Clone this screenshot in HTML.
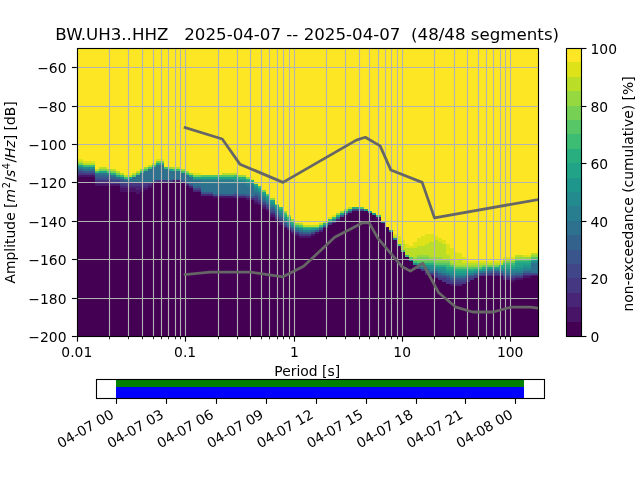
<!DOCTYPE html>
<html><head><meta charset="utf-8"><title>PPSD BW.UH3..HHZ</title>
<style>html,body{margin:0;padding:0;background:#fff}body{width:640px;height:480px;overflow:hidden}</style></head>
<body>
<svg width="640" height="480" viewBox="0 0 640 480" style="display:block">
<defs><clipPath id="axc"><rect x="77" y="48" width="461" height="288"/></clipPath></defs>
<rect width="640" height="480" fill="#fff"/>
<g clip-path="url(#axc)" shape-rendering="crispEdges">
<rect x="76.80" y="48.00" width="460.80" height="288.00" fill="#fde725"/>
<rect x="75" y="177" width="4" height="159" fill="#440154"/>
<rect x="75" y="175" width="4" height="2" fill="#481467"/>
<rect x="75" y="173" width="4" height="2" fill="#453781"/>
<rect x="75" y="171" width="4" height="2" fill="#404688"/>
<rect x="75" y="169" width="4" height="2" fill="#33638d"/>
<rect x="75" y="167" width="4" height="2" fill="#287d8e"/>
<rect x="75" y="165" width="4" height="2" fill="#20a386"/>
<rect x="75" y="163" width="4" height="2" fill="#75d054"/>
<rect x="75" y="161" width="4" height="2" fill="#bade28"/>
<rect x="75" y="159" width="4" height="2" fill="#dde318"/>
<rect x="79" y="177" width="4" height="159" fill="#440154"/>
<rect x="79" y="175" width="4" height="2" fill="#481467"/>
<rect x="79" y="173" width="4" height="2" fill="#453781"/>
<rect x="79" y="171" width="4" height="2" fill="#404688"/>
<rect x="79" y="169" width="4" height="2" fill="#33638d"/>
<rect x="79" y="167" width="4" height="2" fill="#287d8e"/>
<rect x="79" y="165" width="4" height="2" fill="#20a386"/>
<rect x="79" y="163" width="4" height="2" fill="#75d054"/>
<rect x="79" y="161" width="4" height="2" fill="#bade28"/>
<rect x="79" y="159" width="4" height="2" fill="#dde318"/>
<rect x="83" y="177" width="4" height="159" fill="#440154"/>
<rect x="83" y="175" width="4" height="2" fill="#481467"/>
<rect x="83" y="173" width="4" height="2" fill="#453781"/>
<rect x="83" y="171" width="4" height="2" fill="#39558c"/>
<rect x="83" y="169" width="4" height="2" fill="#2d718e"/>
<rect x="83" y="167" width="4" height="2" fill="#238a8d"/>
<rect x="83" y="165" width="4" height="2" fill="#3dbc74"/>
<rect x="83" y="163" width="4" height="2" fill="#bade28"/>
<rect x="83" y="161" width="4" height="2" fill="#dde318"/>
<rect x="87" y="177" width="4" height="159" fill="#440154"/>
<rect x="87" y="175" width="4" height="2" fill="#481467"/>
<rect x="87" y="173" width="4" height="2" fill="#453781"/>
<rect x="87" y="171" width="4" height="2" fill="#39558c"/>
<rect x="87" y="169" width="4" height="2" fill="#2d718e"/>
<rect x="87" y="167" width="4" height="2" fill="#238a8d"/>
<rect x="87" y="165" width="4" height="2" fill="#3dbc74"/>
<rect x="87" y="163" width="4" height="2" fill="#bade28"/>
<rect x="87" y="161" width="4" height="2" fill="#dde318"/>
<rect x="91" y="177" width="4" height="159" fill="#440154"/>
<rect x="91" y="175" width="4" height="2" fill="#481467"/>
<rect x="91" y="173" width="4" height="2" fill="#453781"/>
<rect x="91" y="171" width="4" height="2" fill="#39558c"/>
<rect x="91" y="169" width="4" height="2" fill="#2d718e"/>
<rect x="91" y="167" width="4" height="2" fill="#238a8d"/>
<rect x="91" y="165" width="4" height="2" fill="#3dbc74"/>
<rect x="91" y="163" width="4" height="2" fill="#bade28"/>
<rect x="91" y="161" width="4" height="2" fill="#dde318"/>
<rect x="95" y="186" width="4" height="150" fill="#440154"/>
<rect x="95" y="184" width="4" height="2" fill="#481467"/>
<rect x="95" y="182" width="4" height="2" fill="#482576"/>
<rect x="95" y="180" width="4" height="2" fill="#453781"/>
<rect x="95" y="179" width="4" height="1" fill="#404688"/>
<rect x="95" y="177" width="4" height="2" fill="#39558c"/>
<rect x="95" y="175" width="4" height="2" fill="#33638d"/>
<rect x="95" y="173" width="4" height="2" fill="#2d718e"/>
<rect x="95" y="171" width="4" height="2" fill="#3dbc74"/>
<rect x="95" y="169" width="4" height="2" fill="#bade28"/>
<rect x="99" y="186" width="4" height="150" fill="#440154"/>
<rect x="99" y="184" width="4" height="2" fill="#481467"/>
<rect x="99" y="182" width="4" height="2" fill="#482576"/>
<rect x="99" y="180" width="4" height="2" fill="#453781"/>
<rect x="99" y="179" width="4" height="1" fill="#404688"/>
<rect x="99" y="177" width="4" height="2" fill="#39558c"/>
<rect x="99" y="175" width="4" height="2" fill="#33638d"/>
<rect x="99" y="173" width="4" height="2" fill="#2d718e"/>
<rect x="99" y="171" width="4" height="2" fill="#20a386"/>
<rect x="99" y="169" width="4" height="2" fill="#75d054"/>
<rect x="99" y="167" width="4" height="2" fill="#bade28"/>
<rect x="103" y="186" width="4" height="150" fill="#440154"/>
<rect x="103" y="184" width="4" height="2" fill="#481467"/>
<rect x="103" y="182" width="4" height="2" fill="#482576"/>
<rect x="103" y="180" width="4" height="2" fill="#453781"/>
<rect x="103" y="179" width="4" height="1" fill="#404688"/>
<rect x="103" y="177" width="4" height="2" fill="#39558c"/>
<rect x="103" y="175" width="4" height="2" fill="#33638d"/>
<rect x="103" y="173" width="4" height="2" fill="#2d718e"/>
<rect x="103" y="171" width="4" height="2" fill="#20a386"/>
<rect x="103" y="169" width="4" height="2" fill="#75d054"/>
<rect x="103" y="167" width="4" height="2" fill="#bade28"/>
<rect x="107" y="186" width="4" height="150" fill="#440154"/>
<rect x="107" y="184" width="4" height="2" fill="#481467"/>
<rect x="107" y="182" width="4" height="2" fill="#482576"/>
<rect x="107" y="180" width="4" height="2" fill="#453781"/>
<rect x="107" y="179" width="4" height="1" fill="#404688"/>
<rect x="107" y="177" width="4" height="2" fill="#39558c"/>
<rect x="107" y="175" width="4" height="2" fill="#33638d"/>
<rect x="107" y="173" width="4" height="2" fill="#238a8d"/>
<rect x="107" y="171" width="4" height="2" fill="#56c667"/>
<rect x="107" y="169" width="4" height="2" fill="#95d840"/>
<rect x="111" y="186" width="5" height="150" fill="#440154"/>
<rect x="111" y="184" width="5" height="2" fill="#481467"/>
<rect x="111" y="182" width="5" height="2" fill="#453781"/>
<rect x="111" y="180" width="5" height="2" fill="#404688"/>
<rect x="111" y="179" width="5" height="1" fill="#39558c"/>
<rect x="111" y="177" width="5" height="2" fill="#33638d"/>
<rect x="111" y="175" width="5" height="2" fill="#2d718e"/>
<rect x="111" y="173" width="5" height="2" fill="#29af7f"/>
<rect x="111" y="171" width="5" height="2" fill="#75d054"/>
<rect x="111" y="169" width="5" height="2" fill="#bade28"/>
<rect x="116" y="186" width="4" height="150" fill="#440154"/>
<rect x="116" y="184" width="4" height="2" fill="#481467"/>
<rect x="116" y="182" width="4" height="2" fill="#453781"/>
<rect x="116" y="180" width="4" height="2" fill="#404688"/>
<rect x="116" y="179" width="4" height="1" fill="#39558c"/>
<rect x="116" y="177" width="4" height="2" fill="#2d718e"/>
<rect x="116" y="175" width="4" height="2" fill="#29af7f"/>
<rect x="116" y="173" width="4" height="2" fill="#75d054"/>
<rect x="116" y="171" width="4" height="2" fill="#bade28"/>
<rect x="120" y="192" width="4" height="144" fill="#440154"/>
<rect x="120" y="188" width="4" height="4" fill="#481467"/>
<rect x="120" y="186" width="4" height="2" fill="#482576"/>
<rect x="120" y="184" width="4" height="2" fill="#453781"/>
<rect x="120" y="182" width="4" height="2" fill="#404688"/>
<rect x="120" y="180" width="4" height="2" fill="#39558c"/>
<rect x="120" y="179" width="4" height="1" fill="#33638d"/>
<rect x="120" y="177" width="4" height="2" fill="#287d8e"/>
<rect x="120" y="175" width="4" height="2" fill="#3dbc74"/>
<rect x="120" y="173" width="4" height="2" fill="#bade28"/>
<rect x="124" y="192" width="4" height="144" fill="#440154"/>
<rect x="124" y="188" width="4" height="4" fill="#481467"/>
<rect x="124" y="186" width="4" height="2" fill="#482576"/>
<rect x="124" y="184" width="4" height="2" fill="#453781"/>
<rect x="124" y="182" width="4" height="2" fill="#404688"/>
<rect x="124" y="180" width="4" height="2" fill="#33638d"/>
<rect x="124" y="179" width="4" height="1" fill="#287d8e"/>
<rect x="124" y="177" width="4" height="2" fill="#3dbc74"/>
<rect x="124" y="175" width="4" height="2" fill="#bade28"/>
<rect x="128" y="192" width="4" height="144" fill="#440154"/>
<rect x="128" y="188" width="4" height="4" fill="#481467"/>
<rect x="128" y="186" width="4" height="2" fill="#482576"/>
<rect x="128" y="182" width="4" height="4" fill="#453781"/>
<rect x="128" y="179" width="4" height="3" fill="#2d718e"/>
<rect x="128" y="177" width="4" height="2" fill="#20a386"/>
<rect x="128" y="175" width="4" height="2" fill="#bade28"/>
<rect x="132" y="192" width="4" height="144" fill="#440154"/>
<rect x="132" y="188" width="4" height="4" fill="#481467"/>
<rect x="132" y="186" width="4" height="2" fill="#482576"/>
<rect x="132" y="182" width="4" height="4" fill="#453781"/>
<rect x="132" y="177" width="4" height="5" fill="#2d718e"/>
<rect x="132" y="175" width="4" height="2" fill="#56c667"/>
<rect x="132" y="173" width="4" height="2" fill="#bade28"/>
<rect x="136" y="194" width="4" height="142" fill="#440154"/>
<rect x="136" y="190" width="4" height="4" fill="#481467"/>
<rect x="136" y="186" width="4" height="4" fill="#482576"/>
<rect x="136" y="182" width="4" height="4" fill="#453781"/>
<rect x="136" y="175" width="4" height="7" fill="#2d718e"/>
<rect x="136" y="173" width="4" height="2" fill="#56c667"/>
<rect x="136" y="171" width="4" height="2" fill="#bade28"/>
<rect x="140" y="192" width="4" height="144" fill="#440154"/>
<rect x="140" y="188" width="4" height="4" fill="#481467"/>
<rect x="140" y="186" width="4" height="2" fill="#482576"/>
<rect x="140" y="182" width="4" height="4" fill="#453781"/>
<rect x="140" y="173" width="4" height="9" fill="#2d718e"/>
<rect x="140" y="171" width="4" height="2" fill="#3dbc74"/>
<rect x="140" y="169" width="4" height="2" fill="#95d840"/>
<rect x="144" y="190" width="4" height="146" fill="#440154"/>
<rect x="144" y="188" width="4" height="2" fill="#481467"/>
<rect x="144" y="186" width="4" height="2" fill="#482576"/>
<rect x="144" y="182" width="4" height="4" fill="#453781"/>
<rect x="144" y="171" width="4" height="11" fill="#2d718e"/>
<rect x="144" y="169" width="4" height="2" fill="#3dbc74"/>
<rect x="144" y="167" width="4" height="2" fill="#95d840"/>
<rect x="148" y="188" width="4" height="148" fill="#440154"/>
<rect x="148" y="186" width="4" height="2" fill="#481467"/>
<rect x="148" y="184" width="4" height="2" fill="#482576"/>
<rect x="148" y="182" width="4" height="2" fill="#453781"/>
<rect x="148" y="169" width="4" height="13" fill="#2d718e"/>
<rect x="148" y="167" width="4" height="2" fill="#3dbc74"/>
<rect x="148" y="165" width="4" height="2" fill="#bade28"/>
<rect x="152" y="182" width="4" height="154" fill="#440154"/>
<rect x="152" y="180" width="4" height="2" fill="#39558c"/>
<rect x="152" y="167" width="4" height="13" fill="#2d718e"/>
<rect x="152" y="165" width="4" height="2" fill="#3dbc74"/>
<rect x="152" y="163" width="4" height="2" fill="#bade28"/>
<rect x="156" y="182" width="4" height="154" fill="#440154"/>
<rect x="156" y="180" width="4" height="2" fill="#453781"/>
<rect x="156" y="165" width="4" height="15" fill="#2d718e"/>
<rect x="156" y="163" width="4" height="2" fill="#20a386"/>
<rect x="156" y="161" width="4" height="2" fill="#75d054"/>
<rect x="156" y="159" width="4" height="2" fill="#dde318"/>
<rect x="160" y="182" width="4" height="154" fill="#440154"/>
<rect x="160" y="180" width="4" height="2" fill="#453781"/>
<rect x="160" y="165" width="4" height="15" fill="#2d718e"/>
<rect x="160" y="163" width="4" height="2" fill="#20a386"/>
<rect x="160" y="161" width="4" height="2" fill="#75d054"/>
<rect x="160" y="159" width="4" height="2" fill="#dde318"/>
<rect x="164" y="182" width="5" height="154" fill="#440154"/>
<rect x="164" y="180" width="5" height="2" fill="#453781"/>
<rect x="164" y="169" width="5" height="11" fill="#2d718e"/>
<rect x="164" y="167" width="5" height="2" fill="#3dbc74"/>
<rect x="169" y="182" width="4" height="154" fill="#440154"/>
<rect x="169" y="180" width="4" height="2" fill="#453781"/>
<rect x="169" y="171" width="4" height="9" fill="#2d718e"/>
<rect x="169" y="169" width="4" height="2" fill="#20a386"/>
<rect x="169" y="167" width="4" height="2" fill="#95d840"/>
<rect x="173" y="182" width="4" height="154" fill="#440154"/>
<rect x="173" y="180" width="4" height="2" fill="#481467"/>
<rect x="173" y="179" width="4" height="1" fill="#33638d"/>
<rect x="173" y="171" width="4" height="8" fill="#2d718e"/>
<rect x="173" y="169" width="4" height="2" fill="#3dbc74"/>
<rect x="173" y="167" width="4" height="2" fill="#bade28"/>
<rect x="177" y="182" width="4" height="154" fill="#440154"/>
<rect x="177" y="180" width="4" height="2" fill="#481467"/>
<rect x="177" y="179" width="4" height="1" fill="#33638d"/>
<rect x="177" y="171" width="4" height="8" fill="#2d718e"/>
<rect x="177" y="169" width="4" height="2" fill="#3dbc74"/>
<rect x="177" y="167" width="4" height="2" fill="#bade28"/>
<rect x="181" y="182" width="4" height="154" fill="#440154"/>
<rect x="181" y="180" width="4" height="2" fill="#39558c"/>
<rect x="181" y="173" width="4" height="7" fill="#2d718e"/>
<rect x="181" y="171" width="4" height="2" fill="#3dbc74"/>
<rect x="181" y="169" width="4" height="2" fill="#95d840"/>
<rect x="185" y="186" width="4" height="150" fill="#440154"/>
<rect x="185" y="184" width="4" height="2" fill="#482576"/>
<rect x="185" y="182" width="4" height="2" fill="#39558c"/>
<rect x="185" y="175" width="4" height="7" fill="#2d718e"/>
<rect x="185" y="173" width="4" height="2" fill="#3dbc74"/>
<rect x="185" y="171" width="4" height="2" fill="#95d840"/>
<rect x="189" y="188" width="4" height="148" fill="#440154"/>
<rect x="189" y="186" width="4" height="2" fill="#482576"/>
<rect x="189" y="184" width="4" height="2" fill="#39558c"/>
<rect x="189" y="177" width="4" height="7" fill="#2d718e"/>
<rect x="189" y="175" width="4" height="2" fill="#20a386"/>
<rect x="189" y="173" width="4" height="2" fill="#95d840"/>
<rect x="193" y="192" width="4" height="144" fill="#440154"/>
<rect x="193" y="190" width="4" height="2" fill="#482576"/>
<rect x="193" y="188" width="4" height="2" fill="#404688"/>
<rect x="193" y="186" width="4" height="2" fill="#33638d"/>
<rect x="193" y="180" width="4" height="6" fill="#2d718e"/>
<rect x="193" y="179" width="4" height="1" fill="#238a8d"/>
<rect x="193" y="177" width="4" height="2" fill="#20a386"/>
<rect x="193" y="175" width="4" height="2" fill="#75d054"/>
<rect x="193" y="173" width="4" height="2" fill="#dde318"/>
<rect x="197" y="192" width="4" height="144" fill="#440154"/>
<rect x="197" y="190" width="4" height="2" fill="#482576"/>
<rect x="197" y="188" width="4" height="2" fill="#404688"/>
<rect x="197" y="186" width="4" height="2" fill="#33638d"/>
<rect x="197" y="180" width="4" height="6" fill="#2d718e"/>
<rect x="197" y="179" width="4" height="1" fill="#238a8d"/>
<rect x="197" y="177" width="4" height="2" fill="#20a386"/>
<rect x="197" y="175" width="4" height="2" fill="#75d054"/>
<rect x="197" y="173" width="4" height="2" fill="#dde318"/>
<rect x="201" y="196" width="4" height="140" fill="#440154"/>
<rect x="201" y="194" width="4" height="2" fill="#482576"/>
<rect x="201" y="192" width="4" height="2" fill="#39558c"/>
<rect x="201" y="184" width="4" height="8" fill="#2d718e"/>
<rect x="201" y="180" width="4" height="4" fill="#287d8e"/>
<rect x="201" y="179" width="4" height="1" fill="#238a8d"/>
<rect x="201" y="177" width="4" height="2" fill="#20a386"/>
<rect x="201" y="175" width="4" height="2" fill="#56c667"/>
<rect x="205" y="196" width="4" height="140" fill="#440154"/>
<rect x="205" y="194" width="4" height="2" fill="#482576"/>
<rect x="205" y="192" width="4" height="2" fill="#39558c"/>
<rect x="205" y="184" width="4" height="8" fill="#2d718e"/>
<rect x="205" y="180" width="4" height="4" fill="#287d8e"/>
<rect x="205" y="179" width="4" height="1" fill="#238a8d"/>
<rect x="205" y="177" width="4" height="2" fill="#20a386"/>
<rect x="205" y="175" width="4" height="2" fill="#56c667"/>
<rect x="209" y="196" width="4" height="140" fill="#440154"/>
<rect x="209" y="194" width="4" height="2" fill="#482576"/>
<rect x="209" y="192" width="4" height="2" fill="#39558c"/>
<rect x="209" y="184" width="4" height="8" fill="#2d718e"/>
<rect x="209" y="180" width="4" height="4" fill="#287d8e"/>
<rect x="209" y="179" width="4" height="1" fill="#238a8d"/>
<rect x="209" y="177" width="4" height="2" fill="#20a386"/>
<rect x="209" y="175" width="4" height="2" fill="#56c667"/>
<rect x="213" y="198" width="4" height="138" fill="#440154"/>
<rect x="213" y="196" width="4" height="2" fill="#481467"/>
<rect x="213" y="194" width="4" height="2" fill="#39558c"/>
<rect x="213" y="184" width="4" height="10" fill="#2d718e"/>
<rect x="213" y="180" width="4" height="4" fill="#287d8e"/>
<rect x="213" y="179" width="4" height="1" fill="#238a8d"/>
<rect x="213" y="177" width="4" height="2" fill="#20a386"/>
<rect x="213" y="175" width="4" height="2" fill="#56c667"/>
<rect x="217" y="198" width="5" height="138" fill="#440154"/>
<rect x="217" y="196" width="5" height="2" fill="#481467"/>
<rect x="217" y="194" width="5" height="2" fill="#39558c"/>
<rect x="217" y="184" width="5" height="10" fill="#2d718e"/>
<rect x="217" y="180" width="5" height="4" fill="#287d8e"/>
<rect x="217" y="179" width="5" height="1" fill="#238a8d"/>
<rect x="217" y="177" width="5" height="2" fill="#20a386"/>
<rect x="217" y="175" width="5" height="2" fill="#56c667"/>
<rect x="222" y="198" width="4" height="138" fill="#440154"/>
<rect x="222" y="196" width="4" height="2" fill="#481467"/>
<rect x="222" y="194" width="4" height="2" fill="#39558c"/>
<rect x="222" y="184" width="4" height="10" fill="#2d718e"/>
<rect x="222" y="180" width="4" height="4" fill="#287d8e"/>
<rect x="222" y="179" width="4" height="1" fill="#238a8d"/>
<rect x="222" y="177" width="4" height="2" fill="#20a386"/>
<rect x="222" y="175" width="4" height="2" fill="#56c667"/>
<rect x="222" y="173" width="4" height="2" fill="#bade28"/>
<rect x="226" y="198" width="4" height="138" fill="#440154"/>
<rect x="226" y="196" width="4" height="2" fill="#481467"/>
<rect x="226" y="194" width="4" height="2" fill="#39558c"/>
<rect x="226" y="184" width="4" height="10" fill="#2d718e"/>
<rect x="226" y="180" width="4" height="4" fill="#287d8e"/>
<rect x="226" y="179" width="4" height="1" fill="#238a8d"/>
<rect x="226" y="177" width="4" height="2" fill="#20a386"/>
<rect x="226" y="175" width="4" height="2" fill="#56c667"/>
<rect x="226" y="173" width="4" height="2" fill="#bade28"/>
<rect x="230" y="198" width="4" height="138" fill="#440154"/>
<rect x="230" y="196" width="4" height="2" fill="#481467"/>
<rect x="230" y="194" width="4" height="2" fill="#39558c"/>
<rect x="230" y="184" width="4" height="10" fill="#2d718e"/>
<rect x="230" y="180" width="4" height="4" fill="#287d8e"/>
<rect x="230" y="179" width="4" height="1" fill="#238a8d"/>
<rect x="230" y="177" width="4" height="2" fill="#20a386"/>
<rect x="230" y="175" width="4" height="2" fill="#56c667"/>
<rect x="230" y="173" width="4" height="2" fill="#bade28"/>
<rect x="234" y="198" width="4" height="138" fill="#440154"/>
<rect x="234" y="196" width="4" height="2" fill="#482576"/>
<rect x="234" y="194" width="4" height="2" fill="#404688"/>
<rect x="234" y="192" width="4" height="2" fill="#33638d"/>
<rect x="234" y="184" width="4" height="8" fill="#2d718e"/>
<rect x="234" y="182" width="4" height="2" fill="#287d8e"/>
<rect x="234" y="180" width="4" height="2" fill="#238a8d"/>
<rect x="234" y="179" width="4" height="1" fill="#1f968b"/>
<rect x="234" y="177" width="4" height="2" fill="#20a386"/>
<rect x="234" y="175" width="4" height="2" fill="#3dbc74"/>
<rect x="234" y="173" width="4" height="2" fill="#bade28"/>
<rect x="238" y="198" width="4" height="138" fill="#440154"/>
<rect x="238" y="196" width="4" height="2" fill="#482576"/>
<rect x="238" y="194" width="4" height="2" fill="#39558c"/>
<rect x="238" y="184" width="4" height="10" fill="#2d718e"/>
<rect x="238" y="182" width="4" height="2" fill="#287d8e"/>
<rect x="238" y="180" width="4" height="2" fill="#238a8d"/>
<rect x="238" y="179" width="4" height="1" fill="#20a386"/>
<rect x="238" y="177" width="4" height="2" fill="#29af7f"/>
<rect x="238" y="175" width="4" height="2" fill="#95d840"/>
<rect x="242" y="198" width="4" height="138" fill="#440154"/>
<rect x="242" y="196" width="4" height="2" fill="#482576"/>
<rect x="242" y="194" width="4" height="2" fill="#39558c"/>
<rect x="242" y="184" width="4" height="10" fill="#2d718e"/>
<rect x="242" y="182" width="4" height="2" fill="#287d8e"/>
<rect x="242" y="180" width="4" height="2" fill="#238a8d"/>
<rect x="242" y="179" width="4" height="1" fill="#20a386"/>
<rect x="242" y="177" width="4" height="2" fill="#29af7f"/>
<rect x="242" y="175" width="4" height="2" fill="#95d840"/>
<rect x="246" y="200" width="4" height="136" fill="#440154"/>
<rect x="246" y="198" width="4" height="2" fill="#481467"/>
<rect x="246" y="196" width="4" height="2" fill="#453781"/>
<rect x="246" y="194" width="4" height="2" fill="#33638d"/>
<rect x="246" y="186" width="4" height="8" fill="#2d718e"/>
<rect x="246" y="184" width="4" height="2" fill="#287d8e"/>
<rect x="246" y="182" width="4" height="2" fill="#238a8d"/>
<rect x="246" y="180" width="4" height="2" fill="#20a386"/>
<rect x="246" y="179" width="4" height="1" fill="#29af7f"/>
<rect x="246" y="177" width="4" height="2" fill="#95d840"/>
<rect x="250" y="200" width="4" height="136" fill="#440154"/>
<rect x="250" y="198" width="4" height="2" fill="#482576"/>
<rect x="250" y="196" width="4" height="2" fill="#39558c"/>
<rect x="250" y="186" width="4" height="10" fill="#2d718e"/>
<rect x="250" y="184" width="4" height="2" fill="#287d8e"/>
<rect x="250" y="182" width="4" height="2" fill="#1f968b"/>
<rect x="250" y="180" width="4" height="2" fill="#29af7f"/>
<rect x="250" y="179" width="4" height="1" fill="#dde318"/>
<rect x="254" y="204" width="4" height="132" fill="#440154"/>
<rect x="254" y="202" width="4" height="2" fill="#481467"/>
<rect x="254" y="200" width="4" height="2" fill="#482576"/>
<rect x="254" y="198" width="4" height="2" fill="#453781"/>
<rect x="254" y="196" width="4" height="2" fill="#404688"/>
<rect x="254" y="194" width="4" height="2" fill="#33638d"/>
<rect x="254" y="192" width="4" height="2" fill="#2d718e"/>
<rect x="254" y="190" width="4" height="2" fill="#287d8e"/>
<rect x="254" y="188" width="4" height="2" fill="#238a8d"/>
<rect x="254" y="186" width="4" height="2" fill="#1f968b"/>
<rect x="254" y="184" width="4" height="2" fill="#29af7f"/>
<rect x="254" y="182" width="4" height="2" fill="#dde318"/>
<rect x="258" y="205" width="4" height="131" fill="#440154"/>
<rect x="258" y="204" width="4" height="1" fill="#481467"/>
<rect x="258" y="202" width="4" height="2" fill="#482576"/>
<rect x="258" y="200" width="4" height="2" fill="#453781"/>
<rect x="258" y="198" width="4" height="2" fill="#39558c"/>
<rect x="258" y="196" width="4" height="2" fill="#33638d"/>
<rect x="258" y="194" width="4" height="2" fill="#2d718e"/>
<rect x="258" y="192" width="4" height="2" fill="#287d8e"/>
<rect x="258" y="190" width="4" height="2" fill="#1f968b"/>
<rect x="258" y="188" width="4" height="2" fill="#20a386"/>
<rect x="258" y="186" width="4" height="2" fill="#3dbc74"/>
<rect x="262" y="209" width="4" height="127" fill="#440154"/>
<rect x="262" y="207" width="4" height="2" fill="#481467"/>
<rect x="262" y="205" width="4" height="2" fill="#482576"/>
<rect x="262" y="204" width="4" height="1" fill="#453781"/>
<rect x="262" y="202" width="4" height="2" fill="#404688"/>
<rect x="262" y="200" width="4" height="2" fill="#33638d"/>
<rect x="262" y="198" width="4" height="2" fill="#2d718e"/>
<rect x="262" y="196" width="4" height="2" fill="#287d8e"/>
<rect x="262" y="194" width="4" height="2" fill="#1f968b"/>
<rect x="262" y="192" width="4" height="2" fill="#20a386"/>
<rect x="262" y="190" width="4" height="2" fill="#75d054"/>
<rect x="266" y="211" width="4" height="125" fill="#440154"/>
<rect x="266" y="209" width="4" height="2" fill="#481467"/>
<rect x="266" y="207" width="4" height="2" fill="#453781"/>
<rect x="266" y="205" width="4" height="2" fill="#404688"/>
<rect x="266" y="204" width="4" height="1" fill="#39558c"/>
<rect x="266" y="202" width="4" height="2" fill="#2d718e"/>
<rect x="266" y="200" width="4" height="2" fill="#287d8e"/>
<rect x="266" y="198" width="4" height="2" fill="#1f968b"/>
<rect x="266" y="196" width="4" height="2" fill="#20a386"/>
<rect x="266" y="194" width="4" height="2" fill="#56c667"/>
<rect x="270" y="217" width="5" height="119" fill="#440154"/>
<rect x="270" y="215" width="5" height="2" fill="#481467"/>
<rect x="270" y="213" width="5" height="2" fill="#482576"/>
<rect x="270" y="211" width="5" height="2" fill="#404688"/>
<rect x="270" y="209" width="5" height="2" fill="#39558c"/>
<rect x="270" y="207" width="5" height="2" fill="#33638d"/>
<rect x="270" y="205" width="5" height="2" fill="#287d8e"/>
<rect x="270" y="204" width="5" height="1" fill="#238a8d"/>
<rect x="270" y="202" width="5" height="2" fill="#1f968b"/>
<rect x="270" y="200" width="5" height="2" fill="#20a386"/>
<rect x="270" y="198" width="5" height="2" fill="#95d840"/>
<rect x="275" y="221" width="4" height="115" fill="#440154"/>
<rect x="275" y="219" width="4" height="2" fill="#481467"/>
<rect x="275" y="217" width="4" height="2" fill="#453781"/>
<rect x="275" y="215" width="4" height="2" fill="#404688"/>
<rect x="275" y="213" width="4" height="2" fill="#33638d"/>
<rect x="275" y="211" width="4" height="2" fill="#2d718e"/>
<rect x="275" y="209" width="4" height="2" fill="#287d8e"/>
<rect x="275" y="207" width="4" height="2" fill="#1f968b"/>
<rect x="275" y="205" width="4" height="2" fill="#20a386"/>
<rect x="275" y="204" width="4" height="1" fill="#95d840"/>
<rect x="279" y="225" width="4" height="111" fill="#440154"/>
<rect x="279" y="223" width="4" height="2" fill="#481467"/>
<rect x="279" y="221" width="4" height="2" fill="#482576"/>
<rect x="279" y="219" width="4" height="2" fill="#404688"/>
<rect x="279" y="217" width="4" height="2" fill="#39558c"/>
<rect x="279" y="215" width="4" height="2" fill="#2d718e"/>
<rect x="279" y="213" width="4" height="2" fill="#287d8e"/>
<rect x="279" y="211" width="4" height="2" fill="#238a8d"/>
<rect x="279" y="209" width="4" height="2" fill="#20a386"/>
<rect x="279" y="207" width="4" height="2" fill="#3dbc74"/>
<rect x="283" y="228" width="4" height="108" fill="#440154"/>
<rect x="283" y="227" width="4" height="1" fill="#481467"/>
<rect x="283" y="225" width="4" height="2" fill="#453781"/>
<rect x="283" y="223" width="4" height="2" fill="#39558c"/>
<rect x="283" y="221" width="4" height="2" fill="#33638d"/>
<rect x="283" y="219" width="4" height="2" fill="#287d8e"/>
<rect x="283" y="217" width="4" height="2" fill="#1f968b"/>
<rect x="283" y="215" width="4" height="2" fill="#29af7f"/>
<rect x="283" y="213" width="4" height="2" fill="#3dbc74"/>
<rect x="283" y="211" width="4" height="2" fill="#95d840"/>
<rect x="287" y="230" width="4" height="106" fill="#440154"/>
<rect x="287" y="228" width="4" height="2" fill="#482576"/>
<rect x="287" y="227" width="4" height="1" fill="#404688"/>
<rect x="287" y="225" width="4" height="2" fill="#33638d"/>
<rect x="287" y="223" width="4" height="2" fill="#287d8e"/>
<rect x="287" y="221" width="4" height="2" fill="#1f968b"/>
<rect x="287" y="219" width="4" height="2" fill="#29af7f"/>
<rect x="287" y="217" width="4" height="2" fill="#3dbc74"/>
<rect x="287" y="215" width="4" height="2" fill="#95d840"/>
<rect x="291" y="234" width="4" height="102" fill="#440154"/>
<rect x="291" y="232" width="4" height="2" fill="#481467"/>
<rect x="291" y="230" width="4" height="2" fill="#453781"/>
<rect x="291" y="228" width="4" height="2" fill="#39558c"/>
<rect x="291" y="227" width="4" height="1" fill="#2d718e"/>
<rect x="291" y="225" width="4" height="2" fill="#238a8d"/>
<rect x="291" y="223" width="4" height="2" fill="#20a386"/>
<rect x="291" y="221" width="4" height="2" fill="#3dbc74"/>
<rect x="291" y="219" width="4" height="2" fill="#95d840"/>
<rect x="295" y="236" width="4" height="100" fill="#440154"/>
<rect x="295" y="234" width="4" height="2" fill="#481467"/>
<rect x="295" y="232" width="4" height="2" fill="#453781"/>
<rect x="295" y="230" width="4" height="2" fill="#33638d"/>
<rect x="295" y="228" width="4" height="2" fill="#287d8e"/>
<rect x="295" y="227" width="4" height="1" fill="#1f968b"/>
<rect x="295" y="225" width="4" height="2" fill="#3dbc74"/>
<rect x="295" y="223" width="4" height="2" fill="#95d840"/>
<rect x="299" y="238" width="4" height="98" fill="#440154"/>
<rect x="299" y="236" width="4" height="2" fill="#481467"/>
<rect x="299" y="234" width="4" height="2" fill="#453781"/>
<rect x="299" y="232" width="4" height="2" fill="#39558c"/>
<rect x="299" y="230" width="4" height="2" fill="#2d718e"/>
<rect x="299" y="228" width="4" height="2" fill="#238a8d"/>
<rect x="299" y="227" width="4" height="1" fill="#29af7f"/>
<rect x="299" y="225" width="4" height="2" fill="#56c667"/>
<rect x="299" y="223" width="4" height="2" fill="#bade28"/>
<rect x="303" y="238" width="4" height="98" fill="#440154"/>
<rect x="303" y="236" width="4" height="2" fill="#481467"/>
<rect x="303" y="234" width="4" height="2" fill="#453781"/>
<rect x="303" y="232" width="4" height="2" fill="#33638d"/>
<rect x="303" y="230" width="4" height="2" fill="#287d8e"/>
<rect x="303" y="228" width="4" height="2" fill="#20a386"/>
<rect x="303" y="227" width="4" height="1" fill="#3dbc74"/>
<rect x="303" y="225" width="4" height="2" fill="#bade28"/>
<rect x="307" y="238" width="4" height="98" fill="#440154"/>
<rect x="307" y="236" width="4" height="2" fill="#481467"/>
<rect x="307" y="234" width="4" height="2" fill="#453781"/>
<rect x="307" y="232" width="4" height="2" fill="#33638d"/>
<rect x="307" y="230" width="4" height="2" fill="#287d8e"/>
<rect x="307" y="228" width="4" height="2" fill="#20a386"/>
<rect x="307" y="227" width="4" height="1" fill="#3dbc74"/>
<rect x="307" y="225" width="4" height="2" fill="#bade28"/>
<rect x="311" y="236" width="4" height="100" fill="#440154"/>
<rect x="311" y="234" width="4" height="2" fill="#481467"/>
<rect x="311" y="232" width="4" height="2" fill="#404688"/>
<rect x="311" y="230" width="4" height="2" fill="#2d718e"/>
<rect x="311" y="228" width="4" height="2" fill="#1f968b"/>
<rect x="311" y="227" width="4" height="1" fill="#3dbc74"/>
<rect x="311" y="225" width="4" height="2" fill="#bade28"/>
<rect x="315" y="234" width="4" height="102" fill="#440154"/>
<rect x="315" y="232" width="4" height="2" fill="#481467"/>
<rect x="315" y="230" width="4" height="2" fill="#39558c"/>
<rect x="315" y="228" width="4" height="2" fill="#238a8d"/>
<rect x="315" y="227" width="4" height="1" fill="#3dbc74"/>
<rect x="315" y="225" width="4" height="2" fill="#bade28"/>
<rect x="319" y="232" width="4" height="104" fill="#440154"/>
<rect x="319" y="230" width="4" height="2" fill="#482576"/>
<rect x="319" y="228" width="4" height="2" fill="#39558c"/>
<rect x="319" y="227" width="4" height="1" fill="#238a8d"/>
<rect x="319" y="225" width="4" height="2" fill="#3dbc74"/>
<rect x="319" y="223" width="4" height="2" fill="#bade28"/>
<rect x="323" y="228" width="5" height="108" fill="#440154"/>
<rect x="323" y="227" width="5" height="1" fill="#482576"/>
<rect x="323" y="225" width="5" height="2" fill="#2d718e"/>
<rect x="323" y="223" width="5" height="2" fill="#29af7f"/>
<rect x="323" y="221" width="5" height="2" fill="#bade28"/>
<rect x="328" y="225" width="4" height="111" fill="#440154"/>
<rect x="328" y="223" width="4" height="2" fill="#453781"/>
<rect x="328" y="221" width="4" height="2" fill="#287d8e"/>
<rect x="328" y="219" width="4" height="2" fill="#3dbc74"/>
<rect x="328" y="217" width="4" height="2" fill="#dde318"/>
<rect x="332" y="223" width="4" height="113" fill="#440154"/>
<rect x="332" y="221" width="4" height="2" fill="#453781"/>
<rect x="332" y="219" width="4" height="2" fill="#287d8e"/>
<rect x="332" y="217" width="4" height="2" fill="#3dbc74"/>
<rect x="332" y="215" width="4" height="2" fill="#dde318"/>
<rect x="336" y="221" width="4" height="115" fill="#440154"/>
<rect x="336" y="219" width="4" height="2" fill="#482576"/>
<rect x="336" y="217" width="4" height="2" fill="#2d718e"/>
<rect x="336" y="215" width="4" height="2" fill="#29af7f"/>
<rect x="336" y="213" width="4" height="2" fill="#95d840"/>
<rect x="340" y="217" width="4" height="119" fill="#440154"/>
<rect x="340" y="215" width="4" height="2" fill="#39558c"/>
<rect x="340" y="213" width="4" height="2" fill="#20a386"/>
<rect x="340" y="211" width="4" height="2" fill="#95d840"/>
<rect x="344" y="215" width="4" height="121" fill="#440154"/>
<rect x="344" y="213" width="4" height="2" fill="#404688"/>
<rect x="344" y="211" width="4" height="2" fill="#20a386"/>
<rect x="344" y="209" width="4" height="2" fill="#95d840"/>
<rect x="348" y="213" width="4" height="123" fill="#440154"/>
<rect x="348" y="211" width="4" height="2" fill="#404688"/>
<rect x="348" y="209" width="4" height="2" fill="#20a386"/>
<rect x="348" y="207" width="4" height="2" fill="#bade28"/>
<rect x="352" y="211" width="4" height="125" fill="#440154"/>
<rect x="352" y="209" width="4" height="2" fill="#404688"/>
<rect x="352" y="207" width="4" height="2" fill="#29af7f"/>
<rect x="356" y="211" width="4" height="125" fill="#440154"/>
<rect x="356" y="209" width="4" height="2" fill="#404688"/>
<rect x="356" y="207" width="4" height="2" fill="#29af7f"/>
<rect x="360" y="211" width="4" height="125" fill="#440154"/>
<rect x="360" y="209" width="4" height="2" fill="#39558c"/>
<rect x="360" y="207" width="4" height="2" fill="#56c667"/>
<rect x="364" y="211" width="4" height="125" fill="#440154"/>
<rect x="364" y="209" width="4" height="2" fill="#1f968b"/>
<rect x="368" y="213" width="4" height="123" fill="#440154"/>
<rect x="368" y="211" width="4" height="2" fill="#1f968b"/>
<rect x="372" y="215" width="4" height="121" fill="#440154"/>
<rect x="372" y="213" width="4" height="2" fill="#1f968b"/>
<rect x="376" y="219" width="5" height="117" fill="#440154"/>
<rect x="376" y="217" width="5" height="2" fill="#481467"/>
<rect x="376" y="215" width="5" height="2" fill="#3dbc74"/>
<rect x="381" y="223" width="4" height="113" fill="#440154"/>
<rect x="381" y="221" width="4" height="2" fill="#287d8e"/>
<rect x="385" y="228" width="4" height="108" fill="#440154"/>
<rect x="385" y="227" width="4" height="1" fill="#481467"/>
<rect x="389" y="232" width="4" height="104" fill="#440154"/>
<rect x="389" y="230" width="4" height="2" fill="#238a8d"/>
<rect x="393" y="240" width="4" height="96" fill="#440154"/>
<rect x="393" y="238" width="4" height="2" fill="#287d8e"/>
<rect x="393" y="236" width="4" height="2" fill="#bade28"/>
<rect x="393" y="234" width="4" height="2" fill="#dde318"/>
<rect x="397" y="246" width="4" height="90" fill="#440154"/>
<rect x="397" y="244" width="4" height="2" fill="#3dbc74"/>
<rect x="397" y="236" width="4" height="8" fill="#dde318"/>
<rect x="401" y="252" width="4" height="84" fill="#440154"/>
<rect x="401" y="250" width="4" height="2" fill="#56c667"/>
<rect x="401" y="244" width="4" height="6" fill="#bade28"/>
<rect x="401" y="240" width="4" height="4" fill="#dde318"/>
<rect x="405" y="257" width="4" height="79" fill="#440154"/>
<rect x="405" y="255" width="4" height="2" fill="#3dbc74"/>
<rect x="405" y="248" width="4" height="7" fill="#bade28"/>
<rect x="405" y="244" width="4" height="4" fill="#dde318"/>
<rect x="409" y="261" width="4" height="75" fill="#440154"/>
<rect x="409" y="259" width="4" height="2" fill="#287d8e"/>
<rect x="409" y="257" width="4" height="2" fill="#56c667"/>
<rect x="409" y="248" width="4" height="9" fill="#bade28"/>
<rect x="409" y="246" width="4" height="2" fill="#dde318"/>
<rect x="413" y="265" width="4" height="71" fill="#440154"/>
<rect x="413" y="263" width="4" height="2" fill="#238a8d"/>
<rect x="413" y="261" width="4" height="2" fill="#3dbc74"/>
<rect x="413" y="259" width="4" height="2" fill="#75d054"/>
<rect x="413" y="257" width="4" height="2" fill="#95d840"/>
<rect x="413" y="248" width="4" height="9" fill="#bade28"/>
<rect x="413" y="242" width="4" height="6" fill="#dde318"/>
<rect x="417" y="269" width="4" height="67" fill="#440154"/>
<rect x="417" y="267" width="4" height="2" fill="#39558c"/>
<rect x="417" y="265" width="4" height="2" fill="#287d8e"/>
<rect x="417" y="263" width="4" height="2" fill="#20a386"/>
<rect x="417" y="261" width="4" height="2" fill="#56c667"/>
<rect x="417" y="257" width="4" height="4" fill="#75d054"/>
<rect x="417" y="255" width="4" height="2" fill="#95d840"/>
<rect x="417" y="246" width="4" height="9" fill="#bade28"/>
<rect x="417" y="238" width="4" height="8" fill="#dde318"/>
<rect x="421" y="271" width="4" height="65" fill="#440154"/>
<rect x="421" y="269" width="4" height="2" fill="#453781"/>
<rect x="421" y="267" width="4" height="2" fill="#2d718e"/>
<rect x="421" y="265" width="4" height="2" fill="#1f968b"/>
<rect x="421" y="263" width="4" height="2" fill="#29af7f"/>
<rect x="421" y="261" width="4" height="2" fill="#56c667"/>
<rect x="421" y="257" width="4" height="4" fill="#75d054"/>
<rect x="421" y="255" width="4" height="2" fill="#95d840"/>
<rect x="421" y="246" width="4" height="9" fill="#bade28"/>
<rect x="421" y="236" width="4" height="10" fill="#dde318"/>
<rect x="425" y="275" width="4" height="61" fill="#440154"/>
<rect x="425" y="273" width="4" height="2" fill="#482576"/>
<rect x="425" y="271" width="4" height="2" fill="#404688"/>
<rect x="425" y="269" width="4" height="2" fill="#33638d"/>
<rect x="425" y="267" width="4" height="2" fill="#287d8e"/>
<rect x="425" y="265" width="4" height="2" fill="#1f968b"/>
<rect x="425" y="263" width="4" height="2" fill="#29af7f"/>
<rect x="425" y="261" width="4" height="2" fill="#56c667"/>
<rect x="425" y="257" width="4" height="4" fill="#75d054"/>
<rect x="425" y="255" width="4" height="2" fill="#95d840"/>
<rect x="425" y="244" width="4" height="11" fill="#bade28"/>
<rect x="425" y="234" width="4" height="10" fill="#dde318"/>
<rect x="429" y="276" width="5" height="60" fill="#440154"/>
<rect x="429" y="275" width="5" height="1" fill="#481467"/>
<rect x="429" y="273" width="5" height="2" fill="#453781"/>
<rect x="429" y="271" width="5" height="2" fill="#33638d"/>
<rect x="429" y="269" width="5" height="2" fill="#287d8e"/>
<rect x="429" y="267" width="5" height="2" fill="#238a8d"/>
<rect x="429" y="265" width="5" height="2" fill="#1f968b"/>
<rect x="429" y="263" width="5" height="2" fill="#29af7f"/>
<rect x="429" y="261" width="5" height="2" fill="#56c667"/>
<rect x="429" y="259" width="5" height="2" fill="#75d054"/>
<rect x="429" y="257" width="5" height="2" fill="#95d840"/>
<rect x="429" y="242" width="5" height="15" fill="#bade28"/>
<rect x="429" y="234" width="5" height="8" fill="#dde318"/>
<rect x="434" y="278" width="4" height="58" fill="#440154"/>
<rect x="434" y="276" width="4" height="2" fill="#453781"/>
<rect x="434" y="273" width="4" height="3" fill="#404688"/>
<rect x="434" y="271" width="4" height="2" fill="#33638d"/>
<rect x="434" y="269" width="4" height="2" fill="#287d8e"/>
<rect x="434" y="267" width="4" height="2" fill="#1f968b"/>
<rect x="434" y="265" width="4" height="2" fill="#29af7f"/>
<rect x="434" y="263" width="4" height="2" fill="#56c667"/>
<rect x="434" y="261" width="4" height="2" fill="#75d054"/>
<rect x="434" y="257" width="4" height="4" fill="#95d840"/>
<rect x="434" y="240" width="4" height="17" fill="#bade28"/>
<rect x="434" y="236" width="4" height="4" fill="#dde318"/>
<rect x="438" y="280" width="4" height="56" fill="#440154"/>
<rect x="438" y="278" width="4" height="2" fill="#453781"/>
<rect x="438" y="276" width="4" height="2" fill="#404688"/>
<rect x="438" y="275" width="4" height="1" fill="#39558c"/>
<rect x="438" y="273" width="4" height="2" fill="#33638d"/>
<rect x="438" y="271" width="4" height="2" fill="#287d8e"/>
<rect x="438" y="269" width="4" height="2" fill="#238a8d"/>
<rect x="438" y="267" width="4" height="2" fill="#1f968b"/>
<rect x="438" y="265" width="4" height="2" fill="#29af7f"/>
<rect x="438" y="263" width="4" height="2" fill="#56c667"/>
<rect x="438" y="261" width="4" height="2" fill="#75d054"/>
<rect x="438" y="257" width="4" height="4" fill="#95d840"/>
<rect x="438" y="242" width="4" height="15" fill="#bade28"/>
<rect x="438" y="238" width="4" height="4" fill="#dde318"/>
<rect x="442" y="282" width="4" height="54" fill="#440154"/>
<rect x="442" y="278" width="4" height="4" fill="#453781"/>
<rect x="442" y="276" width="4" height="2" fill="#404688"/>
<rect x="442" y="275" width="4" height="1" fill="#33638d"/>
<rect x="442" y="273" width="4" height="2" fill="#2d718e"/>
<rect x="442" y="269" width="4" height="4" fill="#238a8d"/>
<rect x="442" y="267" width="4" height="2" fill="#1f968b"/>
<rect x="442" y="265" width="4" height="2" fill="#29af7f"/>
<rect x="442" y="263" width="4" height="2" fill="#56c667"/>
<rect x="442" y="261" width="4" height="2" fill="#75d054"/>
<rect x="442" y="259" width="4" height="2" fill="#95d840"/>
<rect x="442" y="244" width="4" height="15" fill="#bade28"/>
<rect x="442" y="240" width="4" height="4" fill="#dde318"/>
<rect x="446" y="284" width="4" height="52" fill="#440154"/>
<rect x="446" y="280" width="4" height="4" fill="#453781"/>
<rect x="446" y="278" width="4" height="2" fill="#404688"/>
<rect x="446" y="276" width="4" height="2" fill="#39558c"/>
<rect x="446" y="275" width="4" height="1" fill="#2d718e"/>
<rect x="446" y="273" width="4" height="2" fill="#287d8e"/>
<rect x="446" y="271" width="4" height="2" fill="#1f968b"/>
<rect x="446" y="269" width="4" height="2" fill="#20a386"/>
<rect x="446" y="267" width="4" height="2" fill="#29af7f"/>
<rect x="446" y="265" width="4" height="2" fill="#3dbc74"/>
<rect x="446" y="263" width="4" height="2" fill="#56c667"/>
<rect x="446" y="261" width="4" height="2" fill="#75d054"/>
<rect x="446" y="259" width="4" height="2" fill="#95d840"/>
<rect x="446" y="255" width="4" height="4" fill="#bade28"/>
<rect x="446" y="244" width="4" height="11" fill="#dde318"/>
<rect x="450" y="286" width="4" height="50" fill="#440154"/>
<rect x="450" y="284" width="4" height="2" fill="#481467"/>
<rect x="450" y="282" width="4" height="2" fill="#453781"/>
<rect x="450" y="280" width="4" height="2" fill="#404688"/>
<rect x="450" y="278" width="4" height="2" fill="#39558c"/>
<rect x="450" y="276" width="4" height="2" fill="#2d718e"/>
<rect x="450" y="275" width="4" height="1" fill="#287d8e"/>
<rect x="450" y="273" width="4" height="2" fill="#238a8d"/>
<rect x="450" y="271" width="4" height="2" fill="#1f968b"/>
<rect x="450" y="269" width="4" height="2" fill="#20a386"/>
<rect x="450" y="267" width="4" height="2" fill="#29af7f"/>
<rect x="450" y="265" width="4" height="2" fill="#56c667"/>
<rect x="450" y="263" width="4" height="2" fill="#95d840"/>
<rect x="450" y="259" width="4" height="4" fill="#bade28"/>
<rect x="450" y="248" width="4" height="11" fill="#dde318"/>
<rect x="454" y="286" width="4" height="50" fill="#440154"/>
<rect x="454" y="284" width="4" height="2" fill="#482576"/>
<rect x="454" y="282" width="4" height="2" fill="#453781"/>
<rect x="454" y="280" width="4" height="2" fill="#404688"/>
<rect x="454" y="278" width="4" height="2" fill="#39558c"/>
<rect x="454" y="276" width="4" height="2" fill="#2d718e"/>
<rect x="454" y="275" width="4" height="1" fill="#238a8d"/>
<rect x="454" y="273" width="4" height="2" fill="#1f968b"/>
<rect x="454" y="271" width="4" height="2" fill="#20a386"/>
<rect x="454" y="269" width="4" height="2" fill="#29af7f"/>
<rect x="454" y="267" width="4" height="2" fill="#56c667"/>
<rect x="454" y="265" width="4" height="2" fill="#95d840"/>
<rect x="454" y="261" width="4" height="4" fill="#bade28"/>
<rect x="454" y="252" width="4" height="9" fill="#dde318"/>
<rect x="458" y="286" width="4" height="50" fill="#440154"/>
<rect x="458" y="284" width="4" height="2" fill="#482576"/>
<rect x="458" y="282" width="4" height="2" fill="#453781"/>
<rect x="458" y="280" width="4" height="2" fill="#404688"/>
<rect x="458" y="278" width="4" height="2" fill="#39558c"/>
<rect x="458" y="276" width="4" height="2" fill="#2d718e"/>
<rect x="458" y="275" width="4" height="1" fill="#238a8d"/>
<rect x="458" y="273" width="4" height="2" fill="#1f968b"/>
<rect x="458" y="271" width="4" height="2" fill="#20a386"/>
<rect x="458" y="269" width="4" height="2" fill="#29af7f"/>
<rect x="458" y="267" width="4" height="2" fill="#56c667"/>
<rect x="458" y="265" width="4" height="2" fill="#95d840"/>
<rect x="458" y="259" width="4" height="6" fill="#bade28"/>
<rect x="458" y="253" width="4" height="6" fill="#dde318"/>
<rect x="462" y="284" width="4" height="52" fill="#440154"/>
<rect x="462" y="282" width="4" height="2" fill="#453781"/>
<rect x="462" y="280" width="4" height="2" fill="#404688"/>
<rect x="462" y="278" width="4" height="2" fill="#39558c"/>
<rect x="462" y="276" width="4" height="2" fill="#2d718e"/>
<rect x="462" y="275" width="4" height="1" fill="#238a8d"/>
<rect x="462" y="273" width="4" height="2" fill="#1f968b"/>
<rect x="462" y="271" width="4" height="2" fill="#20a386"/>
<rect x="462" y="269" width="4" height="2" fill="#29af7f"/>
<rect x="462" y="267" width="4" height="2" fill="#56c667"/>
<rect x="462" y="265" width="4" height="2" fill="#95d840"/>
<rect x="462" y="263" width="4" height="2" fill="#bade28"/>
<rect x="462" y="257" width="4" height="6" fill="#dde318"/>
<rect x="466" y="282" width="4" height="54" fill="#440154"/>
<rect x="466" y="278" width="4" height="4" fill="#453781"/>
<rect x="466" y="276" width="4" height="2" fill="#404688"/>
<rect x="466" y="275" width="4" height="1" fill="#33638d"/>
<rect x="466" y="273" width="4" height="2" fill="#287d8e"/>
<rect x="466" y="271" width="4" height="2" fill="#1f968b"/>
<rect x="466" y="269" width="4" height="2" fill="#29af7f"/>
<rect x="466" y="267" width="4" height="2" fill="#56c667"/>
<rect x="466" y="265" width="4" height="2" fill="#95d840"/>
<rect x="466" y="263" width="4" height="2" fill="#bade28"/>
<rect x="466" y="261" width="4" height="2" fill="#dde318"/>
<rect x="470" y="280" width="4" height="56" fill="#440154"/>
<rect x="470" y="278" width="4" height="2" fill="#453781"/>
<rect x="470" y="276" width="4" height="2" fill="#404688"/>
<rect x="470" y="275" width="4" height="1" fill="#33638d"/>
<rect x="470" y="273" width="4" height="2" fill="#287d8e"/>
<rect x="470" y="271" width="4" height="2" fill="#1f968b"/>
<rect x="470" y="269" width="4" height="2" fill="#29af7f"/>
<rect x="470" y="267" width="4" height="2" fill="#56c667"/>
<rect x="470" y="265" width="4" height="2" fill="#95d840"/>
<rect x="470" y="263" width="4" height="2" fill="#bade28"/>
<rect x="470" y="261" width="4" height="2" fill="#dde318"/>
<rect x="474" y="278" width="4" height="58" fill="#440154"/>
<rect x="474" y="276" width="4" height="2" fill="#453781"/>
<rect x="474" y="275" width="4" height="1" fill="#404688"/>
<rect x="474" y="273" width="4" height="2" fill="#33638d"/>
<rect x="474" y="271" width="4" height="2" fill="#238a8d"/>
<rect x="474" y="269" width="4" height="2" fill="#20a386"/>
<rect x="474" y="267" width="4" height="2" fill="#56c667"/>
<rect x="474" y="265" width="4" height="2" fill="#95d840"/>
<rect x="474" y="263" width="4" height="2" fill="#bade28"/>
<rect x="474" y="261" width="4" height="2" fill="#dde318"/>
<rect x="478" y="276" width="4" height="60" fill="#440154"/>
<rect x="478" y="275" width="4" height="1" fill="#453781"/>
<rect x="478" y="273" width="4" height="2" fill="#39558c"/>
<rect x="478" y="271" width="4" height="2" fill="#2d718e"/>
<rect x="478" y="269" width="4" height="2" fill="#20a386"/>
<rect x="478" y="267" width="4" height="2" fill="#56c667"/>
<rect x="478" y="265" width="4" height="2" fill="#95d840"/>
<rect x="478" y="263" width="4" height="2" fill="#bade28"/>
<rect x="478" y="261" width="4" height="2" fill="#dde318"/>
<rect x="482" y="276" width="5" height="60" fill="#440154"/>
<rect x="482" y="275" width="5" height="1" fill="#453781"/>
<rect x="482" y="273" width="5" height="2" fill="#404688"/>
<rect x="482" y="271" width="5" height="2" fill="#2d718e"/>
<rect x="482" y="269" width="5" height="2" fill="#1f968b"/>
<rect x="482" y="267" width="5" height="2" fill="#29af7f"/>
<rect x="482" y="265" width="5" height="2" fill="#75d054"/>
<rect x="482" y="263" width="5" height="2" fill="#bade28"/>
<rect x="482" y="261" width="5" height="2" fill="#dde318"/>
<rect x="487" y="276" width="4" height="60" fill="#440154"/>
<rect x="487" y="275" width="4" height="1" fill="#482576"/>
<rect x="487" y="273" width="4" height="2" fill="#404688"/>
<rect x="487" y="271" width="4" height="2" fill="#33638d"/>
<rect x="487" y="269" width="4" height="2" fill="#287d8e"/>
<rect x="487" y="267" width="4" height="2" fill="#20a386"/>
<rect x="487" y="265" width="4" height="2" fill="#75d054"/>
<rect x="487" y="263" width="4" height="2" fill="#bade28"/>
<rect x="487" y="261" width="4" height="2" fill="#dde318"/>
<rect x="491" y="276" width="4" height="60" fill="#440154"/>
<rect x="491" y="275" width="4" height="1" fill="#482576"/>
<rect x="491" y="273" width="4" height="2" fill="#453781"/>
<rect x="491" y="271" width="4" height="2" fill="#39558c"/>
<rect x="491" y="269" width="4" height="2" fill="#287d8e"/>
<rect x="491" y="267" width="4" height="2" fill="#20a386"/>
<rect x="491" y="265" width="4" height="2" fill="#75d054"/>
<rect x="491" y="263" width="4" height="2" fill="#bade28"/>
<rect x="491" y="261" width="4" height="2" fill="#dde318"/>
<rect x="495" y="276" width="4" height="60" fill="#440154"/>
<rect x="495" y="275" width="4" height="1" fill="#482576"/>
<rect x="495" y="273" width="4" height="2" fill="#453781"/>
<rect x="495" y="271" width="4" height="2" fill="#39558c"/>
<rect x="495" y="269" width="4" height="2" fill="#287d8e"/>
<rect x="495" y="267" width="4" height="2" fill="#20a386"/>
<rect x="495" y="265" width="4" height="2" fill="#75d054"/>
<rect x="495" y="263" width="4" height="2" fill="#bade28"/>
<rect x="495" y="261" width="4" height="2" fill="#dde318"/>
<rect x="499" y="276" width="4" height="60" fill="#440154"/>
<rect x="499" y="275" width="4" height="1" fill="#482576"/>
<rect x="499" y="273" width="4" height="2" fill="#404688"/>
<rect x="499" y="271" width="4" height="2" fill="#33638d"/>
<rect x="499" y="269" width="4" height="2" fill="#238a8d"/>
<rect x="499" y="267" width="4" height="2" fill="#20a386"/>
<rect x="499" y="265" width="4" height="2" fill="#29af7f"/>
<rect x="499" y="263" width="4" height="2" fill="#bade28"/>
<rect x="499" y="261" width="4" height="2" fill="#dde318"/>
<rect x="503" y="280" width="4" height="56" fill="#440154"/>
<rect x="503" y="278" width="4" height="2" fill="#482576"/>
<rect x="503" y="276" width="4" height="2" fill="#453781"/>
<rect x="503" y="275" width="4" height="1" fill="#39558c"/>
<rect x="503" y="273" width="4" height="2" fill="#33638d"/>
<rect x="503" y="271" width="4" height="2" fill="#287d8e"/>
<rect x="503" y="269" width="4" height="2" fill="#238a8d"/>
<rect x="503" y="267" width="4" height="2" fill="#20a386"/>
<rect x="503" y="265" width="4" height="2" fill="#29af7f"/>
<rect x="503" y="263" width="4" height="2" fill="#3dbc74"/>
<rect x="503" y="261" width="4" height="2" fill="#75d054"/>
<rect x="503" y="259" width="4" height="2" fill="#bade28"/>
<rect x="503" y="257" width="4" height="2" fill="#dde318"/>
<rect x="507" y="280" width="4" height="56" fill="#440154"/>
<rect x="507" y="278" width="4" height="2" fill="#482576"/>
<rect x="507" y="276" width="4" height="2" fill="#453781"/>
<rect x="507" y="275" width="4" height="1" fill="#39558c"/>
<rect x="507" y="273" width="4" height="2" fill="#33638d"/>
<rect x="507" y="271" width="4" height="2" fill="#287d8e"/>
<rect x="507" y="269" width="4" height="2" fill="#238a8d"/>
<rect x="507" y="267" width="4" height="2" fill="#20a386"/>
<rect x="507" y="265" width="4" height="2" fill="#29af7f"/>
<rect x="507" y="263" width="4" height="2" fill="#3dbc74"/>
<rect x="507" y="261" width="4" height="2" fill="#75d054"/>
<rect x="507" y="259" width="4" height="2" fill="#bade28"/>
<rect x="507" y="257" width="4" height="2" fill="#dde318"/>
<rect x="511" y="282" width="4" height="54" fill="#440154"/>
<rect x="511" y="280" width="4" height="2" fill="#481467"/>
<rect x="511" y="278" width="4" height="2" fill="#482576"/>
<rect x="511" y="276" width="4" height="2" fill="#404688"/>
<rect x="511" y="275" width="4" height="1" fill="#39558c"/>
<rect x="511" y="273" width="4" height="2" fill="#2d718e"/>
<rect x="511" y="271" width="4" height="2" fill="#287d8e"/>
<rect x="511" y="269" width="4" height="2" fill="#238a8d"/>
<rect x="511" y="267" width="4" height="2" fill="#20a386"/>
<rect x="511" y="265" width="4" height="2" fill="#29af7f"/>
<rect x="511" y="263" width="4" height="2" fill="#3dbc74"/>
<rect x="511" y="261" width="4" height="2" fill="#75d054"/>
<rect x="511" y="259" width="4" height="2" fill="#bade28"/>
<rect x="511" y="257" width="4" height="2" fill="#dde318"/>
<rect x="515" y="280" width="4" height="56" fill="#440154"/>
<rect x="515" y="278" width="4" height="2" fill="#481467"/>
<rect x="515" y="276" width="4" height="2" fill="#453781"/>
<rect x="515" y="275" width="4" height="1" fill="#39558c"/>
<rect x="515" y="273" width="4" height="2" fill="#33638d"/>
<rect x="515" y="271" width="4" height="2" fill="#287d8e"/>
<rect x="515" y="269" width="4" height="2" fill="#238a8d"/>
<rect x="515" y="267" width="4" height="2" fill="#1f968b"/>
<rect x="515" y="263" width="4" height="4" fill="#20a386"/>
<rect x="515" y="261" width="4" height="2" fill="#29af7f"/>
<rect x="515" y="259" width="4" height="2" fill="#56c667"/>
<rect x="515" y="257" width="4" height="2" fill="#95d840"/>
<rect x="515" y="255" width="4" height="2" fill="#bade28"/>
<rect x="519" y="280" width="4" height="56" fill="#440154"/>
<rect x="519" y="278" width="4" height="2" fill="#481467"/>
<rect x="519" y="276" width="4" height="2" fill="#453781"/>
<rect x="519" y="275" width="4" height="1" fill="#39558c"/>
<rect x="519" y="273" width="4" height="2" fill="#33638d"/>
<rect x="519" y="271" width="4" height="2" fill="#287d8e"/>
<rect x="519" y="269" width="4" height="2" fill="#238a8d"/>
<rect x="519" y="267" width="4" height="2" fill="#1f968b"/>
<rect x="519" y="263" width="4" height="4" fill="#20a386"/>
<rect x="519" y="261" width="4" height="2" fill="#29af7f"/>
<rect x="519" y="259" width="4" height="2" fill="#56c667"/>
<rect x="519" y="257" width="4" height="2" fill="#95d840"/>
<rect x="519" y="255" width="4" height="2" fill="#bade28"/>
<rect x="523" y="278" width="4" height="58" fill="#440154"/>
<rect x="523" y="276" width="4" height="2" fill="#481467"/>
<rect x="523" y="275" width="4" height="1" fill="#482576"/>
<rect x="523" y="273" width="4" height="2" fill="#404688"/>
<rect x="523" y="271" width="4" height="2" fill="#33638d"/>
<rect x="523" y="269" width="4" height="2" fill="#287d8e"/>
<rect x="523" y="267" width="4" height="2" fill="#238a8d"/>
<rect x="523" y="265" width="4" height="2" fill="#1f968b"/>
<rect x="523" y="263" width="4" height="2" fill="#20a386"/>
<rect x="523" y="261" width="4" height="2" fill="#29af7f"/>
<rect x="523" y="259" width="4" height="2" fill="#56c667"/>
<rect x="523" y="257" width="4" height="2" fill="#95d840"/>
<rect x="523" y="255" width="4" height="2" fill="#dde318"/>
<rect x="527" y="278" width="4" height="58" fill="#440154"/>
<rect x="527" y="276" width="4" height="2" fill="#481467"/>
<rect x="527" y="275" width="4" height="1" fill="#482576"/>
<rect x="527" y="273" width="4" height="2" fill="#404688"/>
<rect x="527" y="271" width="4" height="2" fill="#33638d"/>
<rect x="527" y="269" width="4" height="2" fill="#287d8e"/>
<rect x="527" y="267" width="4" height="2" fill="#238a8d"/>
<rect x="527" y="265" width="4" height="2" fill="#1f968b"/>
<rect x="527" y="263" width="4" height="2" fill="#20a386"/>
<rect x="527" y="261" width="4" height="2" fill="#29af7f"/>
<rect x="527" y="259" width="4" height="2" fill="#56c667"/>
<rect x="527" y="257" width="4" height="2" fill="#95d840"/>
<rect x="527" y="255" width="4" height="2" fill="#dde318"/>
<rect x="531" y="276" width="4" height="60" fill="#440154"/>
<rect x="531" y="275" width="4" height="1" fill="#481467"/>
<rect x="531" y="273" width="4" height="2" fill="#404688"/>
<rect x="531" y="263" width="4" height="10" fill="#2d718e"/>
<rect x="531" y="261" width="4" height="2" fill="#238a8d"/>
<rect x="531" y="259" width="4" height="2" fill="#20a386"/>
<rect x="531" y="257" width="4" height="2" fill="#56c667"/>
<rect x="531" y="255" width="4" height="2" fill="#95d840"/>
<rect x="531" y="253" width="4" height="2" fill="#bade28"/>
<rect x="535" y="276" width="5" height="60" fill="#440154"/>
<rect x="535" y="275" width="5" height="1" fill="#481467"/>
<rect x="535" y="273" width="5" height="2" fill="#404688"/>
<rect x="535" y="263" width="5" height="10" fill="#2d718e"/>
<rect x="535" y="261" width="5" height="2" fill="#238a8d"/>
<rect x="535" y="259" width="5" height="2" fill="#20a386"/>
<rect x="535" y="257" width="5" height="2" fill="#56c667"/>
<rect x="535" y="255" width="5" height="2" fill="#95d840"/>
<rect x="535" y="253" width="5" height="2" fill="#bade28"/>
</g>
<g stroke="#b3b3b3" stroke-width="1.111" clip-path="url(#axc)">
<line x1="77.5" y1="48.0" x2="77.5" y2="336.0"/>
<line x1="109.5" y1="48.0" x2="109.5" y2="336.0"/>
<line x1="128.5" y1="48.0" x2="128.5" y2="336.0"/>
<line x1="142.5" y1="48.0" x2="142.5" y2="336.0"/>
<line x1="153.5" y1="48.0" x2="153.5" y2="336.0"/>
<line x1="161.5" y1="48.0" x2="161.5" y2="336.0"/>
<line x1="168.5" y1="48.0" x2="168.5" y2="336.0"/>
<line x1="175.5" y1="48.0" x2="175.5" y2="336.0"/>
<line x1="180.5" y1="48.0" x2="180.5" y2="336.0"/>
<line x1="185.5" y1="48.0" x2="185.5" y2="336.0"/>
<line x1="218.5" y1="48.0" x2="218.5" y2="336.0"/>
<line x1="237.5" y1="48.0" x2="237.5" y2="336.0"/>
<line x1="250.5" y1="48.0" x2="250.5" y2="336.0"/>
<line x1="261.5" y1="48.0" x2="261.5" y2="336.0"/>
<line x1="269.5" y1="48.0" x2="269.5" y2="336.0"/>
<line x1="277.5" y1="48.0" x2="277.5" y2="336.0"/>
<line x1="283.5" y1="48.0" x2="283.5" y2="336.0"/>
<line x1="289.5" y1="48.0" x2="289.5" y2="336.0"/>
<line x1="294.5" y1="48.0" x2="294.5" y2="336.0"/>
<line x1="326.5" y1="48.0" x2="326.5" y2="336.0"/>
<line x1="345.5" y1="48.0" x2="345.5" y2="336.0"/>
<line x1="359.5" y1="48.0" x2="359.5" y2="336.0"/>
<line x1="369.5" y1="48.0" x2="369.5" y2="336.0"/>
<line x1="378.5" y1="48.0" x2="378.5" y2="336.0"/>
<line x1="385.5" y1="48.0" x2="385.5" y2="336.0"/>
<line x1="391.5" y1="48.0" x2="391.5" y2="336.0"/>
<line x1="397.5" y1="48.0" x2="397.5" y2="336.0"/>
<line x1="402.5" y1="48.0" x2="402.5" y2="336.0"/>
<line x1="434.5" y1="48.0" x2="434.5" y2="336.0"/>
<line x1="454.5" y1="48.0" x2="454.5" y2="336.0"/>
<line x1="467.5" y1="48.0" x2="467.5" y2="336.0"/>
<line x1="478.5" y1="48.0" x2="478.5" y2="336.0"/>
<line x1="486.5" y1="48.0" x2="486.5" y2="336.0"/>
<line x1="493.5" y1="48.0" x2="493.5" y2="336.0"/>
<line x1="500.5" y1="48.0" x2="500.5" y2="336.0"/>
<line x1="505.5" y1="48.0" x2="505.5" y2="336.0"/>
<line x1="510.5" y1="48.0" x2="510.5" y2="336.0"/>
<line x1="76.8" y1="336.5" x2="537.6" y2="336.5"/>
<line x1="76.8" y1="298.5" x2="537.6" y2="298.5"/>
<line x1="76.8" y1="259.5" x2="537.6" y2="259.5"/>
<line x1="76.8" y1="221.5" x2="537.6" y2="221.5"/>
<line x1="76.8" y1="182.5" x2="537.6" y2="182.5"/>
<line x1="76.8" y1="144.5" x2="537.6" y2="144.5"/>
<line x1="76.8" y1="106.5" x2="537.6" y2="106.5"/>
<line x1="76.8" y1="67.5" x2="537.6" y2="67.5"/>
</g>
<polyline points="185.15,127.68 222.25,139.01 239.88,164.16 283.00,182.40 356.32,140.16 365.31,137.28 380.11,145.92 390.76,169.92 422.17,182.40 434.47,217.92 569.79,193.92" fill="none" stroke="#666666" stroke-width="2.778" stroke-linejoin="round" stroke-linecap="square" clip-path="url(#axc)"/>
<polyline points="185.15,274.56 210.12,272.06 250.38,272.06 283.00,276.86 303.62,266.30 334.70,237.31 362.14,222.91 369.24,222.91 377.81,238.08 401.85,266.50 410.43,271.10 422.78,263.23 438.74,292.80 455.99,307.20 472.63,312.00 493.42,312.00 510.67,307.20 530.52,307.20 566.10,312.00" fill="none" stroke="#666666" stroke-width="2.778" stroke-linejoin="round" stroke-linecap="square" clip-path="url(#axc)"/>
<g stroke="#000" stroke-width="1.111" fill="none" stroke-linecap="square">
<rect x="77.5" y="48.5" width="461.0" height="288.0"/>
<line x1="77.5" y1="336.00" x2="77.5" y2="341.66" stroke-linecap="butt"/>
<line x1="185.5" y1="336.00" x2="185.5" y2="341.66" stroke-linecap="butt"/>
<line x1="294.5" y1="336.00" x2="294.5" y2="341.66" stroke-linecap="butt"/>
<line x1="402.5" y1="336.00" x2="402.5" y2="341.66" stroke-linecap="butt"/>
<line x1="510.5" y1="336.00" x2="510.5" y2="341.66" stroke-linecap="butt"/>
<line x1="71.94" y1="336.5" x2="76.80" y2="336.5" stroke-linecap="butt"/>
<line x1="71.94" y1="298.5" x2="76.80" y2="298.5" stroke-linecap="butt"/>
<line x1="71.94" y1="259.5" x2="76.80" y2="259.5" stroke-linecap="butt"/>
<line x1="71.94" y1="221.5" x2="76.80" y2="221.5" stroke-linecap="butt"/>
<line x1="71.94" y1="182.5" x2="76.80" y2="182.5" stroke-linecap="butt"/>
<line x1="71.94" y1="144.5" x2="76.80" y2="144.5" stroke-linecap="butt"/>
<line x1="71.94" y1="106.5" x2="76.80" y2="106.5" stroke-linecap="butt"/>
<line x1="71.94" y1="67.5" x2="76.80" y2="67.5" stroke-linecap="butt"/>
</g>
<g stroke="#000" stroke-width="0.833" fill="none">
<line x1="109.5" y1="336.00" x2="109.5" y2="339.28"/>
<line x1="128.5" y1="336.00" x2="128.5" y2="339.28"/>
<line x1="142.5" y1="336.00" x2="142.5" y2="339.28"/>
<line x1="153.5" y1="336.00" x2="153.5" y2="339.28"/>
<line x1="161.5" y1="336.00" x2="161.5" y2="339.28"/>
<line x1="168.5" y1="336.00" x2="168.5" y2="339.28"/>
<line x1="175.5" y1="336.00" x2="175.5" y2="339.28"/>
<line x1="180.5" y1="336.00" x2="180.5" y2="339.28"/>
<line x1="218.5" y1="336.00" x2="218.5" y2="339.28"/>
<line x1="237.5" y1="336.00" x2="237.5" y2="339.28"/>
<line x1="250.5" y1="336.00" x2="250.5" y2="339.28"/>
<line x1="261.5" y1="336.00" x2="261.5" y2="339.28"/>
<line x1="269.5" y1="336.00" x2="269.5" y2="339.28"/>
<line x1="277.5" y1="336.00" x2="277.5" y2="339.28"/>
<line x1="283.5" y1="336.00" x2="283.5" y2="339.28"/>
<line x1="289.5" y1="336.00" x2="289.5" y2="339.28"/>
<line x1="326.5" y1="336.00" x2="326.5" y2="339.28"/>
<line x1="345.5" y1="336.00" x2="345.5" y2="339.28"/>
<line x1="359.5" y1="336.00" x2="359.5" y2="339.28"/>
<line x1="369.5" y1="336.00" x2="369.5" y2="339.28"/>
<line x1="378.5" y1="336.00" x2="378.5" y2="339.28"/>
<line x1="385.5" y1="336.00" x2="385.5" y2="339.28"/>
<line x1="391.5" y1="336.00" x2="391.5" y2="339.28"/>
<line x1="397.5" y1="336.00" x2="397.5" y2="339.28"/>
<line x1="434.5" y1="336.00" x2="434.5" y2="339.28"/>
<line x1="454.5" y1="336.00" x2="454.5" y2="339.28"/>
<line x1="467.5" y1="336.00" x2="467.5" y2="339.28"/>
<line x1="478.5" y1="336.00" x2="478.5" y2="339.28"/>
<line x1="486.5" y1="336.00" x2="486.5" y2="339.28"/>
<line x1="493.5" y1="336.00" x2="493.5" y2="339.28"/>
<line x1="500.5" y1="336.00" x2="500.5" y2="339.28"/>
<line x1="505.5" y1="336.00" x2="505.5" y2="339.28"/>
</g>
<g font-family="'DejaVu Sans','Liberation Sans',sans-serif" font-size="13.889" fill="#000">
<text x="76.80" y="356.78" text-anchor="middle">0.01</text>
<text x="185.15" y="356.78" text-anchor="middle">0.1</text>
<text x="294.30" y="356.78" text-anchor="middle">1</text>
<text x="402.15" y="356.78" text-anchor="middle">10</text>
<text x="510.20" y="356.78" text-anchor="middle">100</text>
<text x="307.20" y="376.27" text-anchor="middle">Period [s]</text>
<text x="66.48" y="342.08" text-anchor="end">−200</text>
<text x="66.48" y="303.68" text-anchor="end">−180</text>
<text x="66.48" y="265.28" text-anchor="end">−160</text>
<text x="66.48" y="226.88" text-anchor="end">−140</text>
<text x="66.48" y="188.48" text-anchor="end">−120</text>
<text x="66.48" y="150.08" text-anchor="end">−100</text>
<text x="66.48" y="111.68" text-anchor="end">−80</text>
<text x="66.48" y="73.28" text-anchor="end">−60</text>
<text transform="translate(16.76 283.44) rotate(-90)" y="-1.36"><tspan x="0.00">Amplitude [</tspan><tspan x="81.01" font-style="oblique">m</tspan><tspan x="95.18" dy="-5.32" font-size="9.722">2</tspan><tspan x="101.75" dy="5.32">/</tspan><tspan x="106.43" font-style="oblique">s</tspan><tspan x="114.31" dy="-5.32" font-size="9.722">4</tspan><tspan x="120.87" dy="5.32">/</tspan><tspan x="125.38" font-style="oblique">Hz</tspan><tspan x="143.11">] [dB]</tspan></text>
<text x="307.20" y="39.67" text-anchor="middle" font-size="16.667" style="white-space:pre" xml:space="preserve">BW.UH3..HHZ   2025-04-07 -- 2025-04-07  (48/48 segments)</text>
<text x="590.52" y="342.08">0</text>
<text x="590.52" y="284.48">20</text>
<text x="590.52" y="226.88">40</text>
<text x="590.52" y="169.28">60</text>
<text x="590.52" y="111.68">80</text>
<text x="590.52" y="54.08">100</text>
<text transform="translate(633.44 194.00) rotate(-90)" text-anchor="middle">non-exceedance (cumulative) [%]</text>
<text transform="translate(60.84 448.48) rotate(-30)">04-07 00</text>
<text transform="translate(110.71 448.48) rotate(-30)">04-07 03</text>
<text transform="translate(160.58 448.48) rotate(-30)">04-07 06</text>
<text transform="translate(210.45 448.48) rotate(-30)">04-07 09</text>
<text transform="translate(260.32 448.48) rotate(-30)">04-07 12</text>
<text transform="translate(310.19 448.48) rotate(-30)">04-07 15</text>
<text transform="translate(360.06 448.48) rotate(-30)">04-07 18</text>
<text transform="translate(409.93 448.48) rotate(-30)">04-07 21</text>
<text transform="translate(459.80 448.48) rotate(-30)">04-08 00</text>
</g>
<g shape-rendering="crispEdges">
<rect x="566" y="322" width="15" height="14" fill="#440154"/>
<rect x="566" y="307" width="15" height="15" fill="#481467"/>
<rect x="566" y="293" width="15" height="14" fill="#482576"/>
<rect x="566" y="278" width="15" height="15" fill="#453781"/>
<rect x="566" y="264" width="15" height="14" fill="#404688"/>
<rect x="566" y="250" width="15" height="14" fill="#39558c"/>
<rect x="566" y="235" width="15" height="15" fill="#33638d"/>
<rect x="566" y="221" width="15" height="14" fill="#2d718e"/>
<rect x="566" y="206" width="15" height="15" fill="#287d8e"/>
<rect x="566" y="192" width="15" height="14" fill="#238a8d"/>
<rect x="566" y="178" width="15" height="14" fill="#1f968b"/>
<rect x="566" y="163" width="15" height="15" fill="#20a386"/>
<rect x="566" y="149" width="15" height="14" fill="#29af7f"/>
<rect x="566" y="134" width="15" height="15" fill="#3dbc74"/>
<rect x="566" y="120" width="15" height="14" fill="#56c667"/>
<rect x="566" y="106" width="15" height="14" fill="#75d054"/>
<rect x="566" y="91" width="15" height="15" fill="#95d840"/>
<rect x="566" y="77" width="15" height="14" fill="#bade28"/>
<rect x="566" y="62" width="15" height="15" fill="#dde318"/>
<rect x="566" y="48" width="15" height="14" fill="#fde725"/>
</g>
<g stroke="#000" stroke-width="1.111" fill="none">
<rect x="566.5" y="48.5" width="15.0" height="288.0"/>
<line x1="580.80" y1="336.5" x2="586.46" y2="336.5"/>
<line x1="580.80" y1="278.5" x2="586.46" y2="278.5"/>
<line x1="580.80" y1="221.5" x2="586.46" y2="221.5"/>
<line x1="580.80" y1="163.5" x2="586.46" y2="163.5"/>
<line x1="580.80" y1="106.5" x2="586.46" y2="106.5"/>
<line x1="580.80" y1="48.5" x2="586.46" y2="48.5"/>
</g>
<g shape-rendering="crispEdges">
<rect x="116" y="387" width="408" height="11" fill="#0000ff"/>
<rect x="116" y="379" width="408" height="8" fill="#008000"/>
</g>
<g stroke="#000" stroke-width="1.111" fill="none">
<rect x="96.5" y="379.5" width="448.0" height="19.0"/>
<line x1="116.5" y1="398.40" x2="116.5" y2="403.86"/>
<line x1="166.5" y1="398.40" x2="166.5" y2="403.86"/>
<line x1="216.5" y1="398.40" x2="216.5" y2="403.86"/>
<line x1="266.5" y1="398.40" x2="266.5" y2="403.86"/>
<line x1="316.5" y1="398.40" x2="316.5" y2="403.86"/>
<line x1="366.5" y1="398.40" x2="366.5" y2="403.86"/>
<line x1="416.5" y1="398.40" x2="416.5" y2="403.86"/>
<line x1="465.5" y1="398.40" x2="465.5" y2="403.86"/>
<line x1="515.5" y1="398.40" x2="515.5" y2="403.86"/>
</g>
</svg>
</body></html>
